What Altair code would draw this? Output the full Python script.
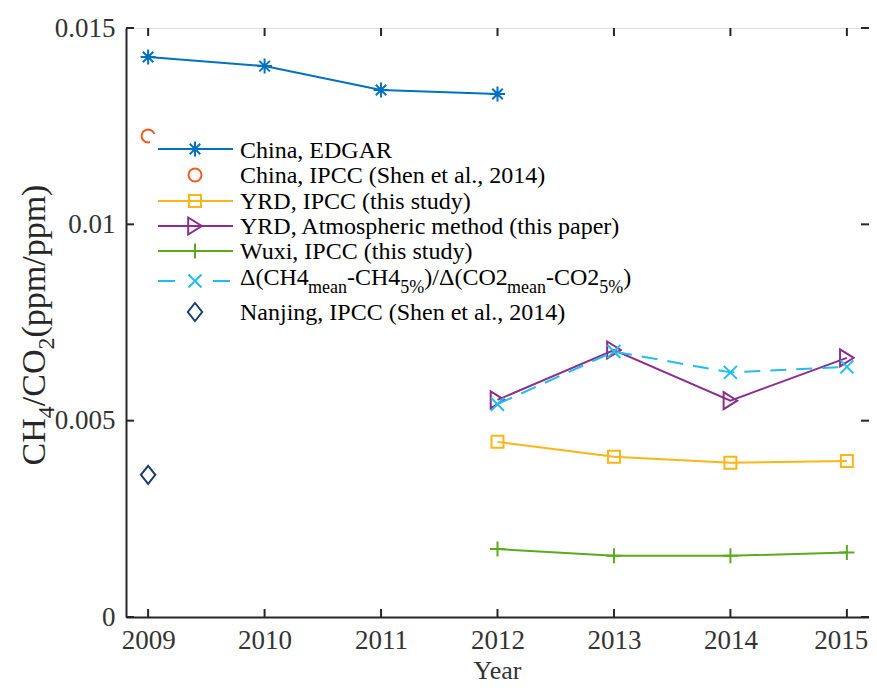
import altair as alt
import pandas as pd

# ---------------- data ----------------
tick_years = [2009, 2010, 2011, 2012, 2013, 2014, 2015]
y_ticks = [0, 0.005, 0.01, 0.015]

edgar_years = [2009, 2010, 2011, 2012]
edgar_vals = [0.01426, 0.01403, 0.01342, 0.01332]

china_ipcc_years = [2009]
china_ipcc_vals = [0.01225]

study_years = [2012, 2013, 2014, 2015]
yrd_ipcc_vals = [0.00446, 0.00408, 0.00393, 0.00397]
yrd_atm_vals = [0.00553, 0.00680, 0.00551, 0.00660]
wuxi_vals = [0.00173, 0.00156, 0.00156, 0.00164]
delta_vals = [0.00542, 0.00676, 0.00623, 0.00637]

nanjing_years = [2009]
nanjing_vals = [0.00362]

legend_labels = [
    "China, EDGAR",
    "China, IPCC (Shen et al., 2014)",
    "YRD, IPCC (this study)",
    "YRD, Atmospheric method (this paper)",
    "Wuxi, IPCC (this study)",
    None,  # delta label, drawn with subscripts
    "Nanjing, IPCC (Shen et al., 2014)",
]
# (text, is_subscript)
delta_parts = [("Δ(CH4", False), ("mean", True), ("-CH4", False), ("5%", True),
               (")/Δ(CO2", False), ("mean", True), ("-CO2", False), ("5%", True), (")", False)]
ytitle_parts = [("CH", False), ("4", True), ("/CO", False), ("2", True), ("(ppm/ppm)", False)]

# ---------------- style ----------------
W, H = 743, 589
FONT = "Liberation Serif"
AX = "#262626"

ASTERISK = "M-1,0L1,0M0,-1L0,1M-0.7,-0.7L0.7,0.7M-0.7,0.7L0.7,-0.7"
PLUS = "M-1,0L1,0M0,-1L0,1"
XMARK = "M-1,-1L1,1M-1,1L1,-1"
TRI_R = "M-0.8,-1L0.8,0L-0.8,1Z"
DIAMOND = "M0,-1L0.8,0L0,1L-0.8,0Z"

series = [
    # years, vals, color, shape, size, dash, line
    (edgar_years, edgar_vals, "#0072BD", ASTERISK, 225, None, True),
    (china_ipcc_years, china_ipcc_vals, "#F05A1E", "circle", 169, None, False),
    (study_years, yrd_ipcc_vals, "#FDB515", "square", 144, None, True),
    (study_years, yrd_atm_vals, "#8A2D8E", TRI_R, 289, None, True),
    (study_years, wuxi_vals, "#5BAA1E", PLUS, 225, None, True),
    (study_years, delta_vals, "#22BDEE", XMARK, 169, [16, 10], True),
    (nanjing_years, nanjing_vals, "#1B3D6B", DIAMOND, 324, None, False),
]

xscale = alt.Scale(domain=[2008.81, 2015.19], nice=False, zero=False)
yscale = alt.Scale(domain=[0, 0.015], nice=False, zero=False)

layers = []

# axes layer (with labels) + inward ticks
xdf = pd.DataFrame({"Year": tick_years})
ydf = pd.DataFrame({"v": y_ticks})
axes_layer = alt.Chart(xdf).mark_rule(color=AX, strokeWidth=2).encode(
    x=alt.X("Year:Q", scale=xscale, title=None,
            axis=alt.Axis(values=tick_years, format="d", labelFont=FONT, labelFontSize=27,
                          labelColor="#333333", labelPadding=31, labelBaseline="alphabetic",
                          labelOffset={"condition": {"test": "datum.value == 2015", "value": -6},
                                       "value": 0},
                          ticks=True, tickSize=0, domainColor=AX, domainWidth=2, grid=False,
                          labelFlush=False)),
    y=alt.value(H), y2=alt.value(H - 8),
)
layers.append(axes_layer)
layers.append(alt.Chart(xdf).mark_rule(color=AX, strokeWidth=2).encode(
    x=alt.X("Year:Q", scale=xscale), y=alt.value(0), y2=alt.value(8)))
layers.append(alt.Chart(ydf).mark_rule(color=AX, strokeWidth=2).encode(
    y=alt.Y("v:Q", scale=yscale, title=None,
            axis=alt.Axis(values=y_ticks, format=".3~f", labelFont=FONT, labelFontSize=27,
                          labelColor="#333333", labelPadding=11, ticks=True, tickSize=0,
                          domainColor=AX, domainWidth=2, grid=False, labelFlush=False)),
    x=alt.value(0), x2=alt.value(8)))
layers.append(alt.Chart(ydf).mark_rule(color=AX, strokeWidth=2).encode(
    y=alt.Y("v:Q", scale=yscale), x=alt.value(W), x2=alt.value(W - 8)))

# data series
for yrs, vals, color, shape, size, dash, line in series:
    df = pd.DataFrame({"Year": yrs, "v": vals})
    enc = dict(x=alt.X("Year:Q", scale=xscale), y=alt.Y("v:Q", scale=yscale))
    if line:
        kw = dict(color=color, strokeWidth=2)
        if dash:
            kw["strokeDash"] = dash
        layers.append(alt.Chart(df).mark_line(**kw).encode(**enc))
    layers.append(alt.Chart(df).mark_point(shape=shape, size=size, filled=False, color=color,
                                            strokeWidth=2, opacity=1).encode(**enc))

# legend (manual, MATLAB-style)
one = pd.DataFrame({"a": [0]})
OX, OY = 126, 28  # plot origin on page
layers.append(alt.Chart(one).mark_rect(color="white").encode(
    x=alt.value(150 - OX), x2=alt.value(645 - OX), y=alt.value(134 - OY), y2=alt.value(330 - OY)))
row_centers = [149, 175, 201, 226, 251, 281, 312]
row_base = [158, 183, 209, 234, 259, 285, 320]
for i, (yrs, vals, color, shape, size, dash, line) in enumerate(series):
    cy = row_centers[i] - OY
    if line:
        if dash:
            for a, b in [(158, 175), (213, 230)]:
                layers.append(alt.Chart(one).mark_rule(color=color, strokeWidth=2).encode(
                    x=alt.value(a - OX), x2=alt.value(b - OX), y=alt.value(cy)))
        else:
            layers.append(alt.Chart(one).mark_rule(color=color, strokeWidth=2).encode(
                x=alt.value(158 - OX), x2=alt.value(233 - OX), y=alt.value(cy)))
    layers.append(alt.Chart(one).mark_point(shape=shape, size=size, filled=False, color=color,
                                            strokeWidth=2, opacity=1).encode(
        x=alt.value(195 - OX), y=alt.value(cy)))
    lab = legend_labels[i]
    by = row_base[i] - OY
    if lab is not None:
        layers.append(alt.Chart(one).mark_text(text=lab, font=FONT, fontSize=24, color="black",
                                               align="left", baseline="alphabetic").encode(
            x=alt.value(240 - OX), y=alt.value(by)))
    else:
        cx = 240.0
        wid = {"Δ": 0.612, "(": 0.333, ")": 0.333, "C": 0.667, "H": 0.722, "4": 0.5, "2": 0.5,
               "-": 0.333, "/": 0.278, "O": 0.722, "m": 0.778, "e": 0.444, "a": 0.444, "n": 0.5,
               "5": 0.5, "%": 0.833}
        for txt, sub in delta_parts:
            fs = 18 if sub else 24
            layers.append(alt.Chart(one).mark_text(text=txt, font=FONT, fontSize=fs, color="black",
                                                   align="left", baseline="alphabetic").encode(
                x=alt.value(cx - OX), y=alt.value(by + (8 if sub else 0))))
            cx += sum(wid[c] for c in txt) * fs

# x title
layers.append(alt.Chart(one).mark_text(text="Year", font=FONT, fontSize=26, color="#333333",
                                       align="center", baseline="alphabetic").encode(
    x=alt.value(W / 2), y=alt.value(679 - OY)))

# y title, rotated, with subscripts
wid2 = {"C": 0.667, "H": 0.722, "4": 0.5, "2": 0.5, "/": 0.278, "O": 0.722, "(": 0.333, ")": 0.333,
        "p": 0.5, "m": 0.778}
F, S = 34, 24
total = sum(sum(wid2[c] for c in t) * (S if s else F) for t, s in ytitle_parts)
cy = 325 + total / 2
for txt, sub in ytitle_parts:
    fs = S if sub else F
    layers.append(alt.Chart(one).mark_text(text=txt, font=FONT, fontSize=fs, color="#262626",
                                           align="left", baseline="alphabetic", angle=270).encode(
        x=alt.value(45 - OX + (9 if sub else 0)), y=alt.value(cy - OY)))
    cy -= sum(wid2[c] for c in txt) * fs

chart = alt.layer(*layers).properties(
    width=W, height=H,
    autosize=alt.AutoSizeParams(type="none"),
    padding={"left": OX - 8, "top": OY - 8, "right": 0, "bottom": 68},
).configure_view(stroke=AX, strokeWidth=2).configure(background="white")

chart.save("out.html", embed_options={"renderer": "svg", "actions": False})
